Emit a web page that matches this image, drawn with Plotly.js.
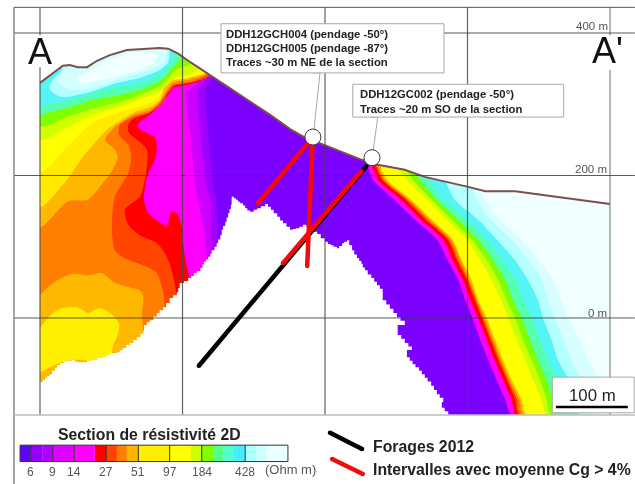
<!DOCTYPE html>
<html>
<head>
<meta charset="utf-8">
<script src="https://cdn.plot.ly/plotly-3.0.1.min.js"></script>
<style>html,body{margin:0;padding:0;background:#fff;overflow:hidden}#plot{width:635px;height:484px;filter:blur(0.55px)}</style>
</head>
<body>
<div id="plot"></div>
<script>
// Section coordinates: distance along section (m), elevation (m)
const terrainX = [0,10,24,32,42,53,66,80,98,122,147,168,180,194,211,239,281,323,351,372,396,449,474,512,540,601,625,667,727,797,800];
const terrainZ = [330,337,348,354,355,352,352,361,369,376,378,379,378,371,359,341,313,285,265,253,244,223,215,208,198,184,178,178,170,161,160];

// Eastern resistivity band limits: distance at each elevation level
const bandLevels = [194,166,138,110,81,53,25,0,-31,-59,-87,-115,-136];
const eastMagenta   = [467,497,526,557,572,587,597,607,618,629,641,653,662];
const eastRed       = [474,507,535,566,579,594,604,615,627,638,650,662,668];
const eastRedOrange = [480,513,541,572,585,599,610,620,632,643,655,667,672];
const eastOrange    = [482,516,544,574,587,601,612,622,634,645,657,670,675];
const eastAmber     = [484,518,547,577,590,603,613,624,636,647,659,673,679];
const eastYellow    = [487,521,550,579,592,606,615,627,639,650,662,676,683];
const eastLime      = [515,543,571,599,618,634,647,657,669,681,692,704,711];
const eastGreen     = [523,550,578,606,627,643,655,667,678,690,702,711,717];
const eastMint      = [533,557,587,615,636,653,664,676,688,699,711,720,725];
const eastCyan      = [545,566,599,627,648,667,678,690,702,713,725,735,739];
const eastPale      = [568,582,615,641,667,685,699,706,718,727,742,751,758];
const eastPaleStrong= [605,613,632,662,685,704,713,722,735,746,760,770,779];
const eastWhite     = [610,625,645,675,700,720,732,742,758,770,785,795,800];
const eastTops      = [459,466,470,472,474,477,498,510,522,535,555,600,615];

// Western resistivity band limits
const purpleOuterX = [243,233,236,243,247,250,250,0,0,243];
const purpleOuterZ = [338,320,260,189,166,109,-50,-50,400,400];
const purpleMidX   = [233,222,225,233,239,241,241,0,0,233];
const purpleMidZ   = [334,320,260,189,166,109,-50,-50,400,400];
const magentaX     = [220,206,211,218,222,232,232,0,0,220];
const magentaZ     = [328,317,260,189,166,109,-50,-50,400,400];
const redX = [241,234,220,199,187,180,168,154,140,136,145,161,164,161,150,146,152,173,178,185,192,199,201,205,211,211,0,0,241];
const redZ = [340,338,331,326,323,313,299,285,275,269,262,254,240,222,198,166,147,131,129,149,147,128,105,77,46,-94,-94,400,400];
const redOrangeX = [239,229,211,189,180,173,154,136,125,124,140,150,149,140,119,124,140,164,178,189,189,0,0,239];
const redOrangeZ = [340,335,330,326,316,302,288,282,274,261,247,236,204,170,152,131,116,105,86,49,-94,-94,400,400];
const orangeX = [237,229,211,187,178,168,154,131,112,111,124,128,124,105,101,105,119,150,164,173,175,175,0,0,237];
const orangeZ = [342,338,331,327,317,302,289,282,271,257,243,226,204,170,128,95,84,72,63,35,15,-94,-94,400,400];
const amberTopX = [236,227,208,187,178,168,154,131,105,91,105,109,102,84,67,39,0,0,236];
const amberTopZ = [344,340,334,330,320,303,292,285,268,250,236,226,208,184,166,164,128,400,400];
const amberLowX = [0,18,45,67,87,102,122,140,145,143,145,145,0];
const amberLowZ = [32,49,62,60,63,51,44,39,29,7,-17,-94,-94];
const goldX = [234,225,206,187,175,168,154,131,94,60,38,0,0,234];
const goldZ = [348,342,337,334,323,306,296,288,264,226,194,156,400,400];
const yellowX = [234,232,219,199,185,175,166,147,122,74,38,0,0,234];
const yellowZ = [351,344,340,335,334,324,309,299,292,274,240,204,400,400];
const limeX = [225,208,192,182,168,145,122,74,38,0,0,225];
const limeZ = [351,341,338,330,317,309,299,285,267,250,400,400];
const greenX = [211,197,187,178,164,140,112,74,38,0,0,211];
const greenZ = [355,351,345,334,323,313,303,294,282,269,400,400];
const mintX = [197,189,180,166,140,112,74,38,14,0,0,197];
const mintZ = [362,355,344,331,320,313,306,295,289,285,400,400];
const cyanX = [189,185,173,154,131,102,66,32,14,0,0,189];
const cyanZ = [372,359,345,334,327,323,313,303,300,296,400,400];
const paleX = [182,180,168,140,108,80,53,32,18,13,21,31,31,182];
const paleZ = [373,359,348,337,330,320,313,310,316,324,338,349,369,390];
const paleStrongX = [178,173,154,131,98,70,45,31,24,31,42,42,178];
const paleStrongZ = [373,358,348,341,331,322,320,326,333,345,354,375,390];
const whiteCoreX = [164,161,145,116,88,56,52,67,98,131,154,164];
const whiteCoreZ = [369,359,351,341,334,330,337,345,362,373,373,369];
const yellowLowX = [0,18,32,53,67,84,98,111,110,102,98,42,14,0];
const yellowLowZ = [-14,7,14,15,7,14,7,-8,-20,-41,-59,-59,-69,-77];

// Lower limit of the resistivity coverage (stepped model cells)
const coverX = [0,4,7,10,14,17,21,24,28,33,38,45,49,53,60,66,73,81,88,93,98,108,112,116,121,126,131,136,141,145,146,150,154,159,164,168,173,177,182,187,192,194,196,202,208,212,216,220,225,228,230,233,236,239,241,245,248,250,253,255,257,260,262,264,266,268,269,272,275,278,281,285,288,291,295,300,305,310,316,320,324,328,333,337,341,346,351,355,359,364,369,374,379,384,389,394,400,404,408,412,417,420,424,427,431,434,438,441,445,448,451,453,456,460,465,469,473,477,481,481,486,491,496,501,506,512,502,507,512,517,522,515,519,523,527,532,536,540,544,549,553,557,561,566,564,568,573,573,0];
const coverZ = [-90,-87,-84,-81,-79,-74,-70,-66,-63,-61,-60,-59,-61,-62,-62,-60,-59,-56,-55,-52,-49,-48,-45,-42,-38,-35,-31,-27,-22,-18,-10,-6,-3,2,7,11,15,21,28,32,36,42,49,52,56,59,63,66,70,75,79,82,86,90,95,100,105,110,116,124,129,135,141,147,153,159,170,168,166,163,161,158,154,151,149,152,154,157,160,156,152,147,142,137,133,128,124,125,126,128,131,128,125,121,118,112,107,104,102,100,98,101,105,107,109,102,95,89,84,80,76,71,67,61,56,51,46,41,36,25,19,13,7,1,-4,-10,-24,-29,-35,-40,-45,-55,-60,-65,-69,-74,-79,-84,-89,-95,-101,-107,-112,-118,-126,-131,-136,-136,-136];

// Drill holes
const holeBlackX = [223,458];
const holeBlackZ = [-67,213];
const interval002X = [341,451];
const interval002Z = [77,206];
const interval004X = [306,380];
const interval004Z = [161,250];
const interval005X = [375,383];
const interval005Z = [73,254];
const collarX = [383,466];
const collarZ = [254,225];

// Colour scale
const scaleEdges = [-28,-13,3,18,48,77,93,108,122,138,182,212,227,243,257,271,288,303,317,348];
const scaleColors = ['#6200ff','#9200ff','#b000ff','#e000ff','#ff00ff','#ff0000','#ff4500','#ff8000','#ffb400','#ffee00','#ffff00','#ccff00','#80ff00','#55ff88','#55ffcc','#44eeff','#aaffff','#ccffff','#eaffff'];
const scaleDividers = [-28,-13,18,48,93,138,182,227,288,348];
const scaleTickX = [-13,18,48,93,138,182,227,288];
const scaleTickLabels = ['6','9','14','27','51','97','184','428'];

// Grid
const gridZ = [400,200,0];

const FONT = '"Liberation Sans", Arial, sans-serif';
const traces = [];
function poly(x, z, color, shape) {
  const ln = {width:0, color:color, shape:shape||'linear'};
  if (shape === 'spline') ln.smoothing = 0.7;
  traces.push({type:'scatter', mode:'lines', x:x, y:z, fill:'toself', fillcolor:color,
    line:ln, hoverinfo:'skip', showlegend:false});
}
function line(x, z, color, width, ends) {
  traces.push({type:'scatter', mode: ends ? 'lines+markers' : 'lines', x:x, y:z,
    line:{color:color, width:width}, marker:{color:color, size:width},
    hoverinfo:'skip', showlegend:false});
}
function eastBand(values, top, color) {
  const x = [top].concat(values, [800, 800]);
  const z = [215].concat(bandLevels, [-136, 440]);
  poly(x, z, color, 'spline');
}

// colour scale bars
traces.push({type:'bar', orientation:'h', showlegend:false, hoverinfo:'skip',
  y: scaleColors.map(() => -190),
  base: scaleEdges.slice(0, -1),
  x: scaleColors.map((c, i) => scaleEdges[i + 1] - scaleEdges[i]),
  width: scaleColors.map(() => 23),
  marker:{color:scaleColors, line:{width:0}}});

// section body
poly(terrainX.concat([800, 0]), terrainZ.concat([-136, -136]), '#7b00ff');
eastBand(eastMagenta, eastTops[0], '#ff00ff');
eastBand(eastRed, eastTops[1], '#ff0000');
eastBand(eastRedOrange, eastTops[2], '#ff4500');
eastBand(eastOrange, eastTops[3], '#ff8000');
eastBand(eastAmber, eastTops[4], '#ffb800');
eastBand(eastYellow, eastTops[5], '#ffff00');
eastBand(eastLime, eastTops[6], '#ccff00');
eastBand(eastGreen, eastTops[7], '#80ff00');
eastBand(eastMint, eastTops[8], '#55ffb0');
eastBand(eastCyan, eastTops[9], '#55f5f5');
eastBand(eastPale, eastTops[10], '#b4ffff');
eastBand(eastPaleStrong, eastTops[11], '#d8ffff');
eastBand(eastWhite, eastTops[12], '#f0ffff');

poly(purpleOuterX, purpleOuterZ, '#a000ff', 'spline');
poly(purpleMidX, purpleMidZ, '#cc00ff', 'spline');
poly(magentaX, magentaZ, '#ff00ff', 'spline');
poly(redX, redZ, '#ff0000', 'spline');
poly(redOrangeX, redOrangeZ, '#ff4500', 'spline');
poly(orangeX, orangeZ, '#ff8000', 'spline');
poly(amberTopX, amberTopZ, '#ffb800', 'spline');
poly(amberLowX, amberLowZ, '#ffb800', 'spline');
poly(goldX, goldZ, '#ffea00', 'spline');
poly(yellowX, yellowZ, '#ffff00', 'spline');
poly(limeX, limeZ, '#d0ff00', 'spline');
poly(greenX, greenZ, '#80ff00', 'spline');
poly(mintX, mintZ, '#55ffb0', 'spline');
poly(cyanX, cyanZ, '#55f5f5', 'spline');
poly(paleX, paleZ, '#b4ffff', 'spline');
poly(paleStrongX, paleStrongZ, '#d4ffff', 'spline');
poly(whiteCoreX, whiteCoreZ, '#f0ffff', 'spline');
poly(yellowLowX, yellowLowZ, '#fff000', 'spline');

// no-coverage area, sky, and edges outside the section
poly(coverX, coverZ, '#ffffff', 'hv');
poly(terrainX.concat([800, 0]), terrainZ.concat([440, 440]), '#ffffff');
poly([-36,0,0,-36], [440,440,-150,-150], '#ffffff');
poly([800,835,835,800], [440,440,-150,-150], '#ffffff');
poly([-36,835,835,-36], [-136,-136,-150,-150], '#ffffff');
line(terrainX, terrainZ, '#7d4f4c', 2);

// grid and frame
const GRID = 'rgba(70,70,70,0.85)';
line([0,0,null,0,0], [436,397,null,352,-136], GRID, 1.2);
line([200,200], [436,-136], GRID, 1.2);
line([400,400], [436,-136], GRID, 1.2);
line([600,600], [436,-136], GRID, 1.2);
line([800,800,null,800,800], [436,397,null,348,-136], 'rgba(110,110,110,0.85)', 1.2);
gridZ.forEach(z => line([-36.5,835], [z,z], 'rgba(60,60,60,0.85)', 1));
line([-36.5,835], [436,436], '#555555', 1);
line([-36.5,-36.5], [436,-233], '#8a8a8a', 1.5);
line([-36.5,835], [-136,-136], '#bdbdbd', 1.5);

// drill holes
line(holeBlackX, holeBlackZ, '#000000', 4.5, true);
line(interval002X, interval002Z, '#f40a0a', 4.5, true);
line(interval004X, interval004Z, '#f40a0a', 4.5, true);
line(interval005X, interval005Z, '#f40a0a', 4.5, true);

// callouts
const BOX = '#a8a8a8';
function box(x, z) {
  traces.push({type:'scatter', mode:'lines', x:x, y:z, fill:'toself', fillcolor:'#ffffff',
    line:{color:BOX, width:1}, hoverinfo:'skip', showlegend:false});
}
box([382,393,384], [344,344,260]);
box([463,474,467], [282,282,230]);
box([254,567,567,254,254], [413,413,344,344,413]);
box([439,735,735,439,439], [328,328,282,282,328]);
traces.push({type:'scatter', mode:'markers', x:collarX, y:collarZ, hoverinfo:'skip', showlegend:false,
  marker:{size:16, color:'#ffffff', line:{color:'#3a3a3a', width:1}}});

// scale box
box([719,834,834,719,719], [-83,-83,-133,-133,-83]);
line([724,825], [-125,-125], '#000000', 2.5);

// colour scale dividers and outline
scaleDividers.forEach(x => line([x,x], [-201.5,-178.5], '#333333', 1));
line([-28,348], [-178.5,-178.5], '#333333', 1);
line([-28,348], [-201.5,-201.5], '#333333', 1);

// legend lines
line([407,452], [-161,-184], '#000000', 4.5, true);
line([410,453], [-198,-219], '#f40a0a', 4.5, true);

function text(x, z, t, size, color, bold, anchor, al) {
  return {x:x, y:z, xref:'x', yref:'y', text: bold ? '<b>'+t+'</b>' : t, showarrow:false,
    xanchor:anchor||'center', yanchor:'middle', align:al||'center',
    font:{family:FONT, size:size, color:color}};
}
const annotations = [
  text(0, 374, 'A', 36, '#111111'),
  text(797, 376, "A'", 36, '#111111'),
  text(775, 410, '400 m', 11.5, '#555555'),
  text(773, 209, '200 m', 11.5, '#555555'),
  text(783, 7, '0 m', 11.5, '#555555'),
  text(258, 399, 'DDH12GCH004 (pendage -50°)', 11.3, '#222222', true, 'left'),
  text(258, 379, 'DDH12GCH005 (pendage -87°)', 11.3, '#222222', true, 'left'),
  text(258, 359, 'Traces ~30 m NE de la section', 11.3, '#222222', true, 'left'),
  text(446, 314, 'DDH12GC002 (pendage -50°)', 11.3, '#222222', true, 'left'),
  text(446, 294, 'Traces ~20 m SO de la section', 11.3, '#222222', true, 'left'),
  text(776, -109, '100 m', 16.8, '#222222'),
  text(154, -163, 'Section de résistivité 2D', 15.8, '#222222', true),
  text(352, -213, '(Ohm m)', 13, '#555555'),
  text(464, -180, 'Forages 2012', 15.8, '#222222', true, 'left'),
  text(464, -213, 'Intervalles avec moyenne Cg &gt; 4%', 15.8, '#222222', true, 'left')
];
scaleTickX.forEach((x, i) => annotations.push(text(x, -216, scaleTickLabels[i], 12, '#555555')));

Plotly.newPlot('plot', traces, {
  width:635, height:484, margin:{l:0,r:0,t:0,b:0,pad:0},
  paper_bgcolor:'#ffffff', plot_bgcolor:'#ffffff', showlegend:false, barmode:'overlay',
  xaxis:{range:[-56.14,835.09], visible:false, fixedrange:true},
  yaxis:{range:[-233,446.3], visible:false, fixedrange:true},
  annotations:annotations
}, {displayModeBar:false, staticPlot:true});
</script>
</body>
</html>
